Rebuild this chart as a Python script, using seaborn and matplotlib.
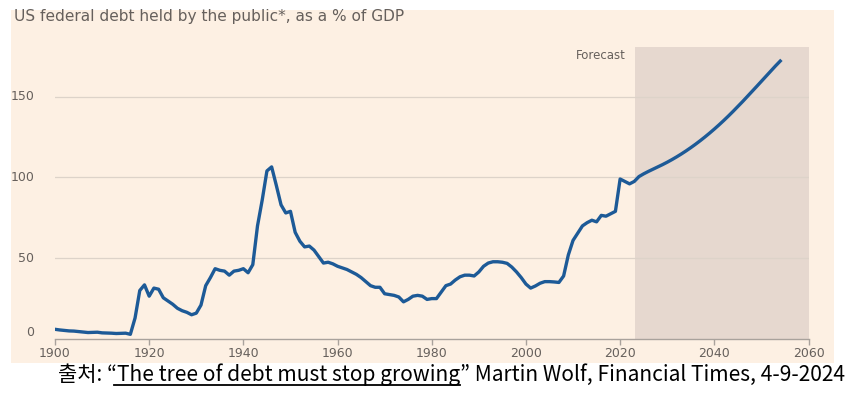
import numpy as np
import pandas as pd
import matplotlib
matplotlib.use("Agg")
import matplotlib.pyplot as plt
from matplotlib.patches import Rectangle
from matplotlib.lines import Line2D
import seaborn as sns

# historical debt held by the public, % of GDP (1900-2023)
hist_years = list(range(1900, 2024))
hist_debt = [
    6.0, 5.6, 5.3, 5.0, 4.9, 4.6, 4.3, 4.0, 4.1, 4.2,
    3.8, 3.7, 3.6, 3.4, 3.5, 3.6, 2.9, 13.0, 30.0, 33.5,
    26.5, 31.5, 30.8, 25.5, 23.5, 21.5, 19.0, 17.5, 16.5, 15.0,
    16.0, 21.0, 33.0, 38.0, 43.5, 42.5, 42.0, 39.5, 42.0, 42.5,
    43.5, 41.0, 46.0, 70.0, 86.0, 104.0, 106.5, 95.0, 83.0, 78.0,
    79.0, 66.0, 60.5, 57.0, 57.5, 55.0, 51.0, 47.0, 47.5, 46.5,
    45.0, 44.0, 43.0, 41.5, 40.0, 38.0, 35.5, 33.0, 32.0, 32.0,
    28.0, 27.5, 27.0, 26.0, 23.0, 24.5, 26.5, 27.0, 26.5, 24.5,
    25.0, 25.0, 29.0, 33.0, 34.0, 36.5, 38.5, 39.5, 39.5, 39.0,
    41.5, 45.0, 47.0, 47.8, 47.8, 47.5, 46.8, 44.5, 41.5, 38.0,
    34.0, 31.5, 32.8, 34.5, 35.5, 35.5, 35.3, 35.0, 39.0, 52.0,
    61.0, 65.5, 70.0, 72.0, 73.5, 72.5, 76.5, 76.0, 77.5, 79.0,
    99.0, 97.5, 96.0, 97.5,
]

# CBO forecast (2024-2054)
fc_years = list(range(2024, 2055))
fc_debt = [
    100.5, 102.2, 103.7, 105.1, 106.5, 107.9, 109.4, 111.0, 112.7, 114.5,
    116.4, 118.4, 120.5, 122.7, 125.0, 127.4, 129.9, 132.5, 135.2, 138.0,
    140.9, 143.9, 146.9, 150.0, 153.1, 156.3, 159.5, 162.7, 165.9, 169.0,
    172.0,
]

forecast_start = 2023.2
forecast_end = 2060

df = pd.DataFrame({"year": hist_years + fc_years, "debt": hist_debt + fc_debt})

cream = "#fdf0e3"
shade = "#e6d8cf"
grey_txt = "#66605c"
grid_c = "#ddd3c9"
line_c = "#1d5a97"

W, H = 857, 399
fig = plt.figure(figsize=(W / 100, H / 100), dpi=100, facecolor="white")

# cream chart panel
fig.patches.append(Rectangle((11 / W, 1 - 363 / H), (834 - 11) / W, (363 - 10) / H,
                             transform=fig.transFigure, facecolor=cream,
                             edgecolor="none", zorder=-1))

ax = fig.add_axes([55 / W, 1 - 339 / H, (808.5 - 55) / W, (339 - 46.5) / H])
ax.set_facecolor("none")

ax.axvspan(forecast_start, forecast_end, color=shade, lw=0, zorder=0)
for v in [50, 100, 150]:
    ax.axhline(v, color=grid_c, lw=0.9, zorder=1)

sns.lineplot(data=df, x="year", y="debt", color=line_c, lw=2.4, ax=ax, zorder=3)

ax.set_xlim(1900, 2060)
ax.set_ylim(0, 181)
ax.set_xticks(range(1900, 2061, 20))
ax.set_yticks([0, 50, 100, 150])
ax.set_xlabel("")
ax.set_ylabel("")
for s in ["top", "right", "left"]:
    ax.spines[s].set_visible(False)
ax.spines["bottom"].set_color("#a9a29c")
ax.spines["bottom"].set_linewidth(1.0)
ax.tick_params(axis="x", colors="#a9a29c", length=4, width=1.0, labelcolor=grey_txt,
               labelsize=9, pad=2)
ax.tick_params(axis="y", length=0, labelcolor=grey_txt, labelsize=9, pad=15)
for lab in ax.get_yticklabels():
    lab.set_verticalalignment("bottom" if lab.get_text() == "0" else "center")

ax.text(2021.3, 175.5, "Forecast", ha="right", va="center", color=grey_txt, fontsize=8.5)

fig.text(14 / W, 1 - 16 / H, "US federal debt held by the public*, as a % of GDP",
         ha="left", va="center", color=grey_txt, fontsize=11.1)

# caption with underlined article title
fam = ["Noto Sans CJK KR", "DejaVu Sans"]
cx, cy = 58 / W, 1 - 381 / H
p1 = "출처: “"
p2 = "The tree of debt must stop growing"
p3 = "” Martin Wolf, Financial Times, 4-9-2024"
fs = 15.1
cap = fig.text(cx, cy, p1 + p2 + p3, ha="left", va="baseline", fontsize=fs,
               family=fam, color="black")
r = fig.canvas.get_renderer()
tmp1 = fig.text(cx, cy, p1, ha="left", va="baseline", fontsize=fs, family=fam)
tmp2 = fig.text(cx, cy, p1 + p2, ha="left", va="baseline", fontsize=fs, family=fam)
x0 = tmp1.get_window_extent(r).x1 - 3
x1 = tmp2.get_window_extent(r).x1
tmp1.remove()
tmp2.remove()
uy = 1 - 384.5 / H
fig.add_artist(Line2D([x0 / W, x1 / W], [uy, uy], transform=fig.transFigure,
                      color="black", lw=1.3))

fig.savefig("out.png", dpi=100, facecolor="white")
